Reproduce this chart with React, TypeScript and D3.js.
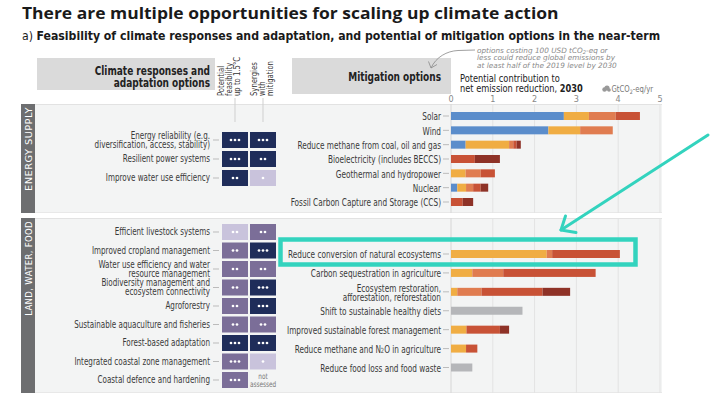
import React, { useLayoutEffect, useRef, useState } from "react";
import * as d3 from "d3";

const W = 710;
const H = 395;

// ---- cost categories (USD/tCO2-eq) ----
const costKeys = ["lt0", "c0_20", "c20_50", "c50_100", "c100_200", "na"];
const costColors = ["#5b8dcb", "#f0ad43", "#e07c50", "#c85236", "#8e3227", "#b5b6b9"];

// ---- Energy supply: mitigation options ----
const energyMitigation = [
  "Solar",
  "Wind",
  "Reduce methane from coal, oil and gas",
  "Bioelectricity (includes BECCS)",
  "Geothermal and hydropower",
  "Nuclear",
  "Fossil Carbon Capture and Storage (CCS)",
];
const energyLt0 = [2.7, 2.33, 0.35, 0, 0, 0.15, 0];
const energy0to20 = [0.6, 0.76, 1.04, 0, 0.35, 0.21, 0];
const energy20to50 = [0.64, 0.78, 0.1, 0, 0.36, 0.17, 0];
const energy50to100 = [0.58, 0, 0.08, 0.57, 0.34, 0.18, 0.28];
const energy100to200 = [0, 0, 0.1, 0.6, 0, 0.18, 0.25];
const energyNA = [0, 0, 0, 0, 0, 0, 0];

// ---- Land, water, food: mitigation options ----
const landMitigation = [
  "Reduce conversion of natural ecosystems",
  "Carbon sequestration in agriculture",
  "Ecosystem restoration,\nafforestation, reforestation",
  "Shift to sustainable healthy diets",
  "Improved sustainable forest management",
  "Reduce methane and N₂O in agriculture",
  "Reduce food loss and food waste",
];
const landLt0 = [0, 0, 0, 0, 0, 0, 0];
const land0to20 = [2.29, 0.51, 0.15, 0, 0.37, 0.36, 0];
const land20to50 = [0.13, 0.74, 0.58, 0, 0, 0, 0];
const land50to100 = [1.62, 2.21, 1.46, 0, 0.8, 0.27, 0];
const land100to200 = [0, 0, 0.66, 0, 0.22, 0, 0];
const landNA = [0, 0, 0, 1.71, 0, 0, 0.51];

// ---- Adaptation options ----
const energyAdapt = [
  "Energy reliability (e.g.\ndiversification, access, stability)",
  "Resilient power systems",
  "Improve water use efficiency",
];
const energyFeasLevel = ["high", "high", "high"];
const energyFeasConf = [3, 3, 2];
const energySynLevel = ["high", "high", "low"];
const energySynConf = [3, 2, 1];

const landAdapt = [
  "Efficient livestock systems",
  "Improved cropland management",
  "Water use efficiency and water\nresource management",
  "Biodiversity management and\necosystem connectivity",
  "Agroforestry",
  "Sustainable aquaculture and fisheries",
  "Forest-based adaptation",
  "Integrated coastal zone management",
  "Coastal defence and hardening",
];
const landFeasLevel = ["low", "medium", "medium", "medium", "medium", "medium", "high", "medium", "medium"];
const landFeasConf = [2, 2, 2, 2, 2, 2, 3, 3, 3];
const landSynLevel = ["medium", "high", "medium", "high", "high", "medium", "high", "low", "na"];
const landSynConf = [2, 3, 2, 3, 3, 2, 3, 1, 0];

const axisTicks = [0, 1, 2, 3, 4, 5];

const annotationLines = [
  "options costing 100 USD tCO₂-eq or",
  "less could reduce global emissions by",
  "at least half of the 2019 level by 2030",
];

const levelColor: Record<string, string> = {
  high: "#1f2d5a",
  medium: "#7b6e98",
  low: "#c9c3dc",
};

const COND = "'DejaVu Sans Condensed', 'DejaVu Sans', sans-serif";
const TXT = "#3a3a3a";
const SX = 0.8;

function Rich({ s, size }: { s: string; size: number }) {
  const parts = s.split("₂");
  const out: React.ReactNode[] = [];
  parts.forEach((p, i) => {
    out.push(
      <tspan key={"p" + i} dy={i > 0 ? -size * 0.2 : undefined}>
        {p}
      </tspan>
    );
    if (i < parts.length - 1) {
      out.push(
        <tspan key={"s" + i} fontSize={size * 0.7} dy={size * 0.2}>
          2
        </tspan>
      );
    }
  });
  return <>{out}</>;
}

function FitText({ x, y, width, rotate = 0, children, ...props }: any) {
  const ref = useRef<SVGTextElement>(null);
  const [s, setS] = useState(1);
  useLayoutEffect(() => {
    if (ref.current) {
      const w = ref.current.getComputedTextLength();
      if (w > 0) setS(width / w);
    }
  }, [width]);
  return (
    <text ref={ref} transform={`translate(${x},${y}) rotate(${rotate}) scale(${s},1)`} {...props}>
      {children}
    </text>
  );
}

function MultiLabel({ x, y, text, size, anchor = "end", lh = 9 }: any) {
  const lines = text.split("\n");
  const n = lines.length;
  return (
    <>
      {lines.map((l: string, i: number) => (
        <text
          key={i}
          transform={`translate(${x},${y + (i - (n - 1) / 2) * lh}) scale(${SX},1)`}
          textAnchor={anchor}
          dominantBaseline="central"
          fontFamily={COND}
          fontSize={size}
          fill={TXT}
        >
          <Rich s={l} size={size} />
        </text>
      ))}
    </>
  );
}

function buildRows(names: string[], cols: number[][]) {
  return names.map((n, i) => {
    const r: any = { name: n };
    costKeys.forEach((k, j) => (r[k] = cols[j][i]));
    return r;
  });
}

function Bars({ rows, y, x }: any) {
  const stack = d3.stack<any>().keys(costKeys);
  const series = stack(rows);
  return (
    <g>
      {series.map((s, k) =>
        s.map((d, i) => {
          const w = x(d[1]) - x(d[0]);
          if (w <= 0) return null;
          return (
            <rect
              key={k + "-" + i}
              x={x(d[0])}
              y={y(d.data.name) - 4}
              width={w}
              height={8}
              fill={costColors[k]}
            />
          );
        })
      )}
    </g>
  );
}

function Cell({ cx, cy, level, conf }: any) {
  if (level === "na") {
    return (
      <g fontFamily={COND} fontSize={8} fill="#777">
        <text transform={`translate(${cx},${cy - 3.5}) scale(${SX},1)`} textAnchor="middle" dominantBaseline="central">
          not
        </text>
        <text transform={`translate(${cx},${cy + 4.5}) scale(${SX},1)`} textAnchor="middle" dominantBaseline="central">
          assessed
        </text>
      </g>
    );
  }
  const dots = d3.range(conf);
  return (
    <g>
      <rect x={cx - 13} y={cy - 8} width={26} height={16} fill={levelColor[level]} />
      {dots.map((j) => (
        <circle key={j} cx={cx + (j - (conf - 1) / 2) * 4} cy={cy} r={1.35} fill="#fff" />
      ))}
    </g>
  );
}

export default function App() {
  const x = d3.scaleLinear().domain([0, 5]).range([451, 660]);
  const yE = d3.scalePoint<string>().domain(energyMitigation).range([116, 202]);
  const yL = d3.scalePoint<string>().domain(landMitigation).range([254, 367.5]);
  const yAE = d3.scalePoint<string>().domain(energyAdapt).range([140, 178]);
  const yAL = d3.scalePoint<string>().domain(landAdapt).range([232, 380]);

  const energyRows = buildRows(energyMitigation, [energyLt0, energy0to20, energy20to50, energy50to100, energy100to200, energyNA]);
  const landRows = buildRows(landMitigation, [landLt0, land0to20, land20to50, land50to100, land100to200, landNA]);

  const col1 = 235;
  const col2 = 263;

  const panels = [
    { y0: 104, y1: 213, label: "ENERGY SUPPLY", lw: 84 },
    { y0: 218, y1: 393, label: "LAND, WATER, FOOD", lw: 95 },
  ];

  const hl = yL(landMitigation[0])!;

  return (
    <svg
      width={W}
      height={H}
      style={{ position: "absolute", left: 0, top: 0, background: "#fff" }}
      xmlns="http://www.w3.org/2000/svg"
    >
      <rect x={0} y={0} width={W} height={H} fill="#fff" />
      {/* Title */}
      <FitText x={22} y={18.5} width={537} fontFamily="'Open Sans', 'Noto Sans', sans-serif" fontWeight={700} fontSize={16.5} fill="#1a1a1a">
        There are multiple opportunities for scaling up climate action
      </FitText>
      <FitText x={22} y={39.5} width={639} fontFamily={COND} fontSize={12} fill="#1a1a1a">
        <tspan>a) </tspan>
        <tspan fontWeight={700}>
          Feasibility of climate responses and adaptation, and potential of mitigation options in the near-term
        </tspan>
      </FitText>

      {/* Header boxes */}
      <rect x={37} y={58} width={178} height={32} fill="#dadada" />
      <text transform={`translate(210,75) scale(${SX},1)`} textAnchor="end" fontFamily={COND} fontWeight={700} fontSize={12.5} fill="#222">
        Climate responses and
      </text>
      <text transform={`translate(210,87) scale(${SX},1)`} textAnchor="end" fontFamily={COND} fontWeight={700} fontSize={12.5} fill="#222">
        adaptation options
      </text>

      {[
        { xs: [221, 229, 237], lines: ["Potential", "feasibility", "up to 1.5°C"] },
        { xs: [254, 262, 270], lines: ["Synergies", "with", "mitigation"] },
      ].map((h, hi) => (
        <g key={hi}>
          {h.lines.map((l, i) => (
            <text
              key={i}
              transform={`translate(${h.xs[i]},96) rotate(-90) scale(0.85,1)`}
              textAnchor="start"
              dominantBaseline="central"
              fontFamily={COND}
              fontSize={9}
              fill="#333"
            >
              {l}
            </text>
          ))}
        </g>
      ))}

      <rect x={292} y={58} width={159} height={36} fill="#dadada" />
      <text transform={`translate(441,81) scale(${SX},1)`} textAnchor="end" fontFamily={COND} fontWeight={700} fontSize={12.5} fill="#222">
        Mitigation options
      </text>

      {/* annotation */}
      <path d="M475,50 L458,50.5 C447,51 436,57 431,68" fill="none" stroke="#888" strokeWidth={0.8} />
      <path d="M428.5,61.5 L431,68 L437,64.5" fill="none" stroke="#888" strokeWidth={0.8} />
      {annotationLines.map((l, i) => (
        <text key={i} x={477} y={52.5 + i * 7.6} fontFamily="'DejaVu Sans', sans-serif" fontStyle="italic" fontSize={7.3} fill="#8a8a8a">
          <Rich s={l} size={7.3} />
        </text>
      ))}

      <text transform="translate(460,82) scale(0.92,1)" fontFamily={COND} fontSize={10} fill="#222">
        Potential contribution to
      </text>
      <text transform="translate(460,92) scale(0.92,1)" fontFamily={COND} fontSize={10} fill="#222">
        net emission reduction, <tspan fontWeight={700}>2030</tspan>
      </text>
      <g fill="#999">
        <circle cx={604.5} cy={89.5} r={2.2} />
        <circle cx={607} cy={88} r={2.6} />
        <circle cx={609} cy={90} r={1.8} />
      </g>
      <text transform={`translate(611.5,92) scale(0.9,1)`} fontFamily={COND} fontSize={8.5} fill="#777">
        <Rich s="GtCO₂-eq/yr" size={8.5} />
      </text>

      {axisTicks.map((t) => (
        <text key={t} x={x(t)} y={102} textAnchor="middle" fontFamily={COND} fontSize={9} fill="#888">
          {t}
        </text>
      ))}

      {/* column connector lines */}
      <line x1={col1} x2={col1} y1={98} y2={104} stroke="#cfcfcf" />
      <line x1={col2} x2={col2} y1={98} y2={104} stroke="#cfcfcf" />

      {/* Panels */}
      {panels.map((p, i) => (
        <g key={i}>
          <rect x={35} y={p.y0} width={627} height={p.y1 - p.y0} fill="#f3f4f4" />
          <line x1={35} x2={662} y1={p.y0 + 0.5} y2={p.y0 + 0.5} stroke="#e2e2e2" />
          <line x1={35} x2={662} y1={p.y1 - 0.5} y2={p.y1 - 0.5} stroke="#e8e8e8" />
          <rect x={21} y={p.y0} width={14} height={p.y1 - p.y0} fill="#6d6e70" />
          <FitText
            x={28.5}
            y={p.y0 + 3}
            rotate={-90}
            width={p.lw}
            textAnchor="end"
            dominantBaseline="central"
            fontFamily="'DejaVu Sans', sans-serif"
            fontSize={9.5}
            letterSpacing={0.4}
            fill="#fff"
          >
            {p.label}
          </FitText>
          {axisTicks.map((t) => (
            <line
              key={t}
              x1={x(t)}
              x2={x(t)}
              y1={p.y0}
              y2={p.y1}
              stroke={t === 0 ? "#d6d6d6" : "#e3e3e3"}
              strokeWidth={1}
            />
          ))}
        </g>
      ))}
      <line x1={col1} x2={col1} y1={104} y2={122} stroke="#cfcfcf" />
      <line x1={col2} x2={col2} y1={104} y2={122} stroke="#cfcfcf" />

      {/* Adaptation rows */}
      {energyAdapt.map((a, i) => {
        const cy = yAE(a)!;
        return (
          <g key={i}>
            <MultiLabel x={210} y={cy} text={a} size={10} />
            <line x1={213} x2={219} y1={cy} y2={cy} stroke="#bbb" />
            <Cell cx={col1} cy={cy} level={energyFeasLevel[i]} conf={energyFeasConf[i]} />
            <Cell cx={col2} cy={cy} level={energySynLevel[i]} conf={energySynConf[i]} />
          </g>
        );
      })}
      {landAdapt.map((a, i) => {
        const cy = yAL(a)!;
        return (
          <g key={i}>
            <MultiLabel x={210} y={cy} text={a} size={10} />
            <line x1={213} x2={219} y1={cy} y2={cy} stroke="#bbb" />
            <Cell cx={col1} cy={cy} level={landFeasLevel[i]} conf={landFeasConf[i]} />
            <Cell cx={col2} cy={cy} level={landSynLevel[i]} conf={landSynConf[i]} />
          </g>
        );
      })}

      {/* Mitigation labels */}
      {energyMitigation.map((m, i) => {
        const cy = yE(m)!;
        return (
          <g key={i}>
            <MultiLabel x={441} y={cy} text={m} size={10.2} />
            <line x1={443} x2={449} y1={cy} y2={cy} stroke="#bbb" />
          </g>
        );
      })}
      {landMitigation.map((m, i) => {
        const cy = yL(m)!;
        return (
          <g key={i}>
            <MultiLabel x={441} y={cy} text={m} size={10.2} />
            <line x1={443} x2={449} y1={cy} y2={cy} stroke="#bbb" />
          </g>
        );
      })}

      <Bars rows={energyRows} y={yE} x={x} />
      <Bars rows={landRows} y={yL} x={x} />

      {/* Highlight */}
      <rect x={280.5} y={hl - 14.5} width={355} height={25} fill="none" stroke="#33d3be" strokeWidth={4.5} />
      <line x1={708} y1={135} x2={561} y2={230} stroke="#33d3be" strokeWidth={3} strokeLinecap="round" />
      <path d="M565.5,216 L561,230 L576,232.5" fill="none" stroke="#33d3be" strokeWidth={3} strokeLinecap="round" strokeLinejoin="round" />
    </svg>
  );
}
